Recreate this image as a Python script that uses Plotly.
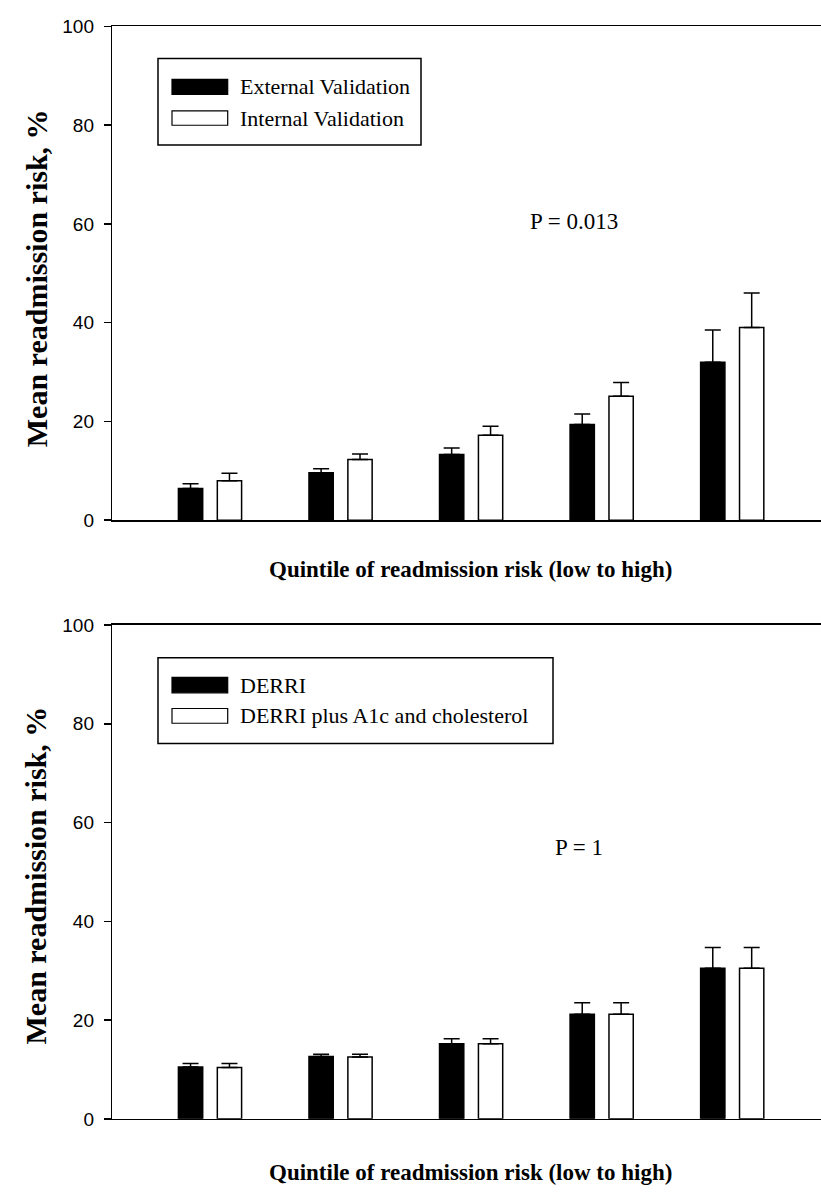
import plotly.graph_objects as go

# ---------------- data ----------------
quintiles = [1, 2, 3, 4, 5]

# Top panel
external_mean = [6.4, 9.6, 13.3, 19.4, 32.0]
external_upper = [7.4, 10.4, 14.6, 21.5, 38.5]
internal_mean = [8.0, 12.3, 17.2, 25.1, 39.0]
internal_upper = [9.5, 13.4, 19.0, 27.9, 46.0]

# Bottom panel
derri_mean = [10.5, 12.6, 15.2, 21.2, 30.5]
derri_upper = [11.2, 13.1, 16.2, 23.5, 34.7]
derri_plus_mean = [10.4, 12.5, 15.2, 21.2, 30.5]
derri_plus_upper = [11.2, 13.1, 16.2, 23.5, 34.7]

y_ticks = [0, 20, 40, 60, 80, 100]
top_labels = ["External Validation", "Internal Validation"]
bottom_labels = ["DERRI", "DERRI plus A1c and cholesterol"]
top_p = "P = 0.013"
bottom_p = "P = 1"
x_title = "Quintile of readmission risk (low to high)"
y_title = "Mean readmission risk, %"

# ---------------- layout helpers ----------------
W, H = 821, 1194
def px(xp):
    return xp / W
def py(yp):
    return 1 - yp / H

SERIF = "Liberation Serif, Times New Roman, serif"
SANS = "Liberation Sans, Arial, sans-serif"

BAR_W = 0.186
OFF_L = -0.242
OFF_R = 0.056
LW = 1.5

fig = go.Figure()

def add_bar(vals, upper, fill, offset, xa, ya):
    fig.add_trace(go.Bar(
        x=quintiles, y=vals, width=BAR_W, offset=offset,
        marker=dict(color=fill, line=dict(color="black", width=LW)),
        error_y=dict(type="data", symmetric=False,
                     array=[u - v for u, v in zip(upper, vals)],
                     arrayminus=[0] * len(vals),
                     color="black", thickness=LW, width=8),
        xaxis=xa, yaxis=ya, showlegend=False))

add_bar(external_mean, external_upper, "black", OFF_L, "x", "y")
add_bar(internal_mean, internal_upper, "white", OFF_R, "x", "y")
add_bar(derri_mean, derri_upper, "black", OFF_L, "x2", "y2")
add_bar(derri_plus_mean, derri_plus_upper, "white", OFF_R, "x2", "y2")

xdom = [112.3 / W, 1.0]
xrange_ = [0.2516, 5.680]
top_dom = [py(519.3), py(16.7)]
bot_dom = [py(1128.7), py(626.0)]

xcommon = dict(range=xrange_, domain=xdom, showticklabels=False, ticks="",
               showline=True, mirror=True, linecolor="black", linewidth=LW,
               showgrid=False, zeroline=False, fixedrange=True)
ycommon = dict(range=[0, 100], tickvals=y_ticks, ticks="outside", ticklen=7,
               tickwidth=LW, tickcolor="black", showline=True, linecolor="black",
               linewidth=LW, showgrid=False, zeroline=False,
               tickfont=dict(family=SANS, size=19, color="black"),
               ticklabelstandoff=6)

fig.update_layout(
    width=W, height=H,
    margin=dict(l=0, r=0, t=0, b=0),
    paper_bgcolor="white", plot_bgcolor="white",
    barmode="overlay",
    xaxis=dict(**xcommon, anchor="y"),
    yaxis=dict(**ycommon, domain=top_dom, anchor="x"),
    xaxis2=dict(**xcommon, anchor="y2"),
    yaxis2=dict(**ycommon, domain=bot_dom, anchor="x2"),
)

shapes = []
annotations = []

def legend(box, sw1, sw2, labels, text_x, font_size=22):
    x0, y0, x1, y1 = box
    shapes.append(dict(type="rect", xref="paper", yref="paper",
                       x0=px(x0), x1=px(x1), y0=py(y1), y1=py(y0),
                       line=dict(color="black", width=LW), fillcolor="white"))
    for (sx0, sy0, sx1, sy1), fill, lab in zip([sw1, sw2], ["black", "white"], labels):
        shapes.append(dict(type="rect", xref="paper", yref="paper",
                           x0=px(sx0), x1=px(sx1), y0=py(sy1), y1=py(sy0),
                           line=dict(color="black", width=1.2), fillcolor=fill))
        annotations.append(dict(xref="paper", yref="paper", x=px(text_x),
                                y=py((sy0 + sy1) / 2), text=lab, showarrow=False,
                                xanchor="left", yanchor="middle",
                                font=dict(family=SERIF, size=font_size, color="black")))

legend((158, 49.3, 421, 137.3), (172, 70.7, 227.7, 86), (172, 102.7, 227.7, 117.3),
       top_labels, 238)
legend((158, 659.3, 553, 746.7), (172, 679.3, 227.7, 695), (172, 711, 227.7, 726),
       bottom_labels, 238)

# P-values
annotations.append(dict(xref="paper", yref="paper", x=px(574), y=py(215), text=top_p,
                        showarrow=False, xanchor="center", yanchor="middle",
                        font=dict(family=SERIF, size=23, color="black")))
annotations.append(dict(xref="paper", yref="paper", x=px(579), y=py(852), text=bottom_p,
                        showarrow=False, xanchor="center", yanchor="middle",
                        font=dict(family=SERIF, size=23, color="black")))

# Axis titles
for ty in (570, 1183):
    annotations.append(dict(xref="paper", yref="paper", x=px(471), y=py(ty),
                            text="<b>" + x_title + "</b>", showarrow=False,
                            xanchor="center", yanchor="middle",
                            font=dict(family=SERIF, size=23, color="black")))
for ty in (273, 881):
    annotations.append(dict(xref="paper", yref="paper", x=px(36), y=py(ty),
                            text="<b>" + y_title + "</b>", showarrow=False,
                            textangle=-90, xanchor="center", yanchor="middle",
                            font=dict(family=SERIF, size=30, color="black")))

fig.update_layout(shapes=shapes, annotations=annotations)
fig.write_html("out.html",
               config={"displayModeBar": False, "staticPlot": True},
               post_script="document.body.style.margin='0';document.body.style.overflow='hidden';")
